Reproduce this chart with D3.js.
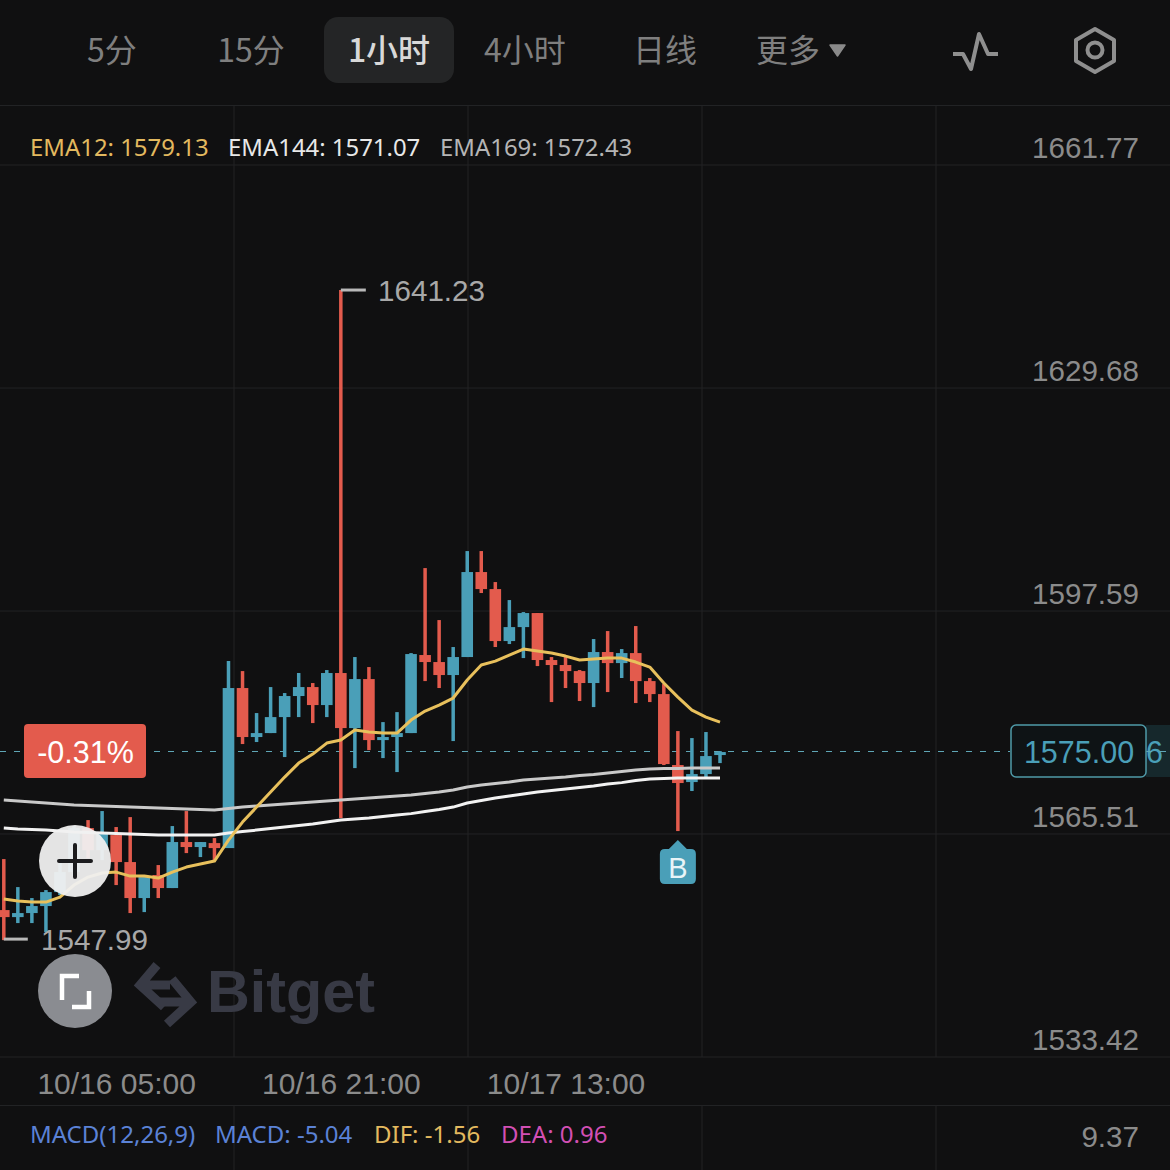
<!DOCTYPE html>
<html><head><meta charset="utf-8">
<script src="https://cdn.jsdelivr.net/npm/d3@7/dist/d3.min.js"></script>
<style>html,body{margin:0;padding:0;background:#101011;overflow:hidden}svg{display:block}
text{font-family:"Liberation Sans",Arial,sans-serif}
.cjk{font-family:"Noto Sans CJK SC","Noto Sans",sans-serif}
.ns{font-family:"Noto Sans",sans-serif}
.domain{display:none}.tick line{display:none}</style></head><body>
<script>
const opens=[1554.56,1553.55,1554.13,1555.14,1557.15,1560.03,1566.36,1563.19,1565.35,1561.47,1556.29,1559.60,1557.73,1564.35,1563.63,1564.20,1563.48,1586.51,1579.46,1580.03,1582.33,1585.36,1586.65,1584.06,1588.67,1580.75,1587.80,1579.02,1579.46,1580.03,1591.26,1590.25,1588.38,1590.97,1603.20,1600.75,1593.27,1595.28,1597.30,1590.54,1589.82,1588.95,1587.23,1591.69,1590.10,1591.54,1587.51,1585.64,1575.43,1572.98,1574.13,1576.87];
const closes=[1553.55,1554.13,1555.14,1557.15,1560.03,1566.36,1563.19,1565.64,1561.47,1556.29,1559.31,1557.73,1564.35,1563.63,1564.35,1563.48,1586.51,1579.46,1580.03,1582.33,1585.36,1586.65,1584.06,1588.67,1580.75,1587.80,1579.02,1579.46,1580.03,1591.40,1590.25,1588.38,1590.97,1603.20,1600.75,1593.27,1595.28,1597.30,1590.54,1589.82,1588.95,1587.23,1591.69,1590.10,1591.54,1587.51,1585.64,1575.57,1572.84,1574.13,1576.72,1577.30];
const highs=[1561.90,1557.87,1556.29,1557.44,1561.76,1566.65,1567.51,1568.81,1566.51,1567.94,1559.31,1561.04,1566.65,1568.81,1564.35,1564.92,1590.39,1588.95,1582.91,1586.65,1585.79,1588.67,1587.23,1589.10,1643.78,1590.97,1589.53,1581.61,1583.05,1591.54,1603.77,1596.29,1592.41,1606.22,1606.22,1601.76,1599.17,1597.44,1597.30,1590.97,1590.97,1589.10,1593.56,1594.71,1592.12,1595.43,1587.95,1587.08,1580.32,1579.31,1580.18,1577.44];
const lows=[1550.24,1552.69,1552.69,1551.40,1556.72,1559.45,1562.04,1561.76,1558.16,1554.13,1554.27,1556.29,1557.73,1562.76,1562.19,1561.76,1563.48,1578.45,1578.74,1580.03,1576.58,1582.33,1581.47,1582.33,1567.80,1574.99,1577.58,1576.43,1574.42,1580.03,1587.51,1586.51,1578.88,1590.97,1600.18,1592.41,1592.84,1590.82,1589.67,1584.49,1586.51,1584.64,1583.77,1585.93,1587.95,1584.35,1584.49,1575.43,1565.93,1571.69,1573.70,1575.71];
const ema12=[1556.14,1555.86,1555.71,1555.71,1556.43,1558.16,1559.31,1559.89,1560.03,1559.45,1559.45,1559.17,1560.03,1560.75,1561.18,1561.61,1564.63,1567.22,1569.38,1571.54,1573.70,1575.71,1577.01,1578.59,1579.02,1580.46,1580.18,1580.03,1580.03,1581.90,1583.20,1584.06,1585.07,1587.66,1589.82,1590.39,1591.26,1592.12,1591.83,1591.54,1591.11,1590.54,1590.68,1590.82,1590.82,1590.25,1589.53,1587.23,1585.21,1583.34,1582.33,1581.61];
const ema144=[1570.39,1570.25,1570.10,1569.96,1569.82,1569.67,1569.60,1569.53,1569.46,1569.38,1569.31,1569.24,1569.17,1569.10,1569.03,1568.95,1569.17,1569.38,1569.53,1569.67,1569.82,1569.96,1570.10,1570.25,1570.39,1570.53,1570.68,1570.82,1570.96,1571.11,1571.32,1571.54,1571.83,1572.26,1572.55,1572.76,1572.98,1573.27,1573.41,1573.55,1573.70,1573.91,1574.06,1574.27,1574.49,1574.71,1574.85,1574.92,1574.92,1574.99,1574.99,1574.99];
const ema169=[1566.36,1566.22,1566.15,1566.07,1565.93,1565.79,1565.71,1565.64,1565.57,1565.50,1565.43,1565.35,1565.35,1565.35,1565.35,1565.35,1565.64,1565.86,1566.07,1566.29,1566.50,1566.72,1566.94,1567.22,1567.51,1567.65,1567.80,1568.01,1568.23,1568.44,1568.73,1569.03,1569.38,1569.96,1570.32,1570.68,1570.96,1571.25,1571.54,1571.76,1571.97,1572.19,1572.40,1572.69,1572.90,1573.19,1573.41,1573.49,1573.55,1573.55,1573.55,1573.55];
const priceTicks=[1661.77,1629.68,1597.59,1565.51,1533.42];
const timeTickIdx=[8,24,40];
const timeTickLabels=["10/16 05:00","10/16 21:00","10/17 13:00"];
const tabs=["5分","15分","1小时","4小时","日线","更多"];
const lastLinePrice=1577.44, buyIndex=48, highIndex=24, lowIndex=0;

const W=1170,H=1170,TEAL="#4a9fb8",RED="#e35b4d",GRID="#222325",GREY="#8b8b8b";
const svg=d3.select("body").append("svg").attr("width",W).attr("height",H);
svg.append("rect").attr("width",W).attr("height",H).attr("fill","#101011");
const x=d3.scaleLinear().domain([0,51]).range([3.8,720]);
const y=d3.scaleLinear().domain([1533.42,1661.77]).range([1057,165]);
const lastY=Math.round(y(lastLinePrice))+.5;

// grid
const g=svg.append("g");
priceTicks.forEach(p=>g.append("line").attr("x1",0).attr("x2",W).attr("y1",y(p)).attr("y2",y(p)).attr("stroke",GRID));
[105,1105].forEach(v=>g.append("line").attr("x1",0).attr("x2",W).attr("y1",v+.5).attr("y2",v+.5).attr("stroke",GRID));
d3.range(1,5).map(k=>k*234).forEach(v=>{
  g.append("line").attr("x1",v).attr("x2",v).attr("y1",106).attr("y2",1057).attr("stroke",GRID);
  g.append("line").attr("x1",v).attr("x2",v).attr("y1",1105).attr("y2",H).attr("stroke",GRID);
});
// tabs
const tabX=[112,251,389,525,665,788];
svg.append("rect").attr("x",324).attr("y",17).attr("width",130).attr("height",66).attr("rx",14).attr("fill","#242526");
tabs.forEach((t,i)=>svg.append("text").attr("class","cjk").attr("x",tabX[i]).attr("y",62).attr("text-anchor","middle")
  .attr("font-size",32).attr("font-weight",i==2?500:400).attr("fill",i==2?"#d8d8d8":"#7f7f7f").text(t));
svg.append("path").attr("d","M830 45h15l-7.500 11z").attr("fill","#8a8a8a").attr("stroke","#8a8a8a").attr("stroke-width",1.500).attr("stroke-linejoin","round");
svg.append("path").attr("d","M953 54H963L971 69L979 34L988 54H998").attr("fill","none").attr("stroke","#8f8f8f").attr("stroke-width",4).attr("stroke-linejoin","round");
svg.append("path").attr("d","M1095 29L1114 40V61L1095 72L1076 61V40Z").attr("fill","none").attr("stroke","#8f8f8f").attr("stroke-width",4).attr("stroke-linejoin","round");
svg.append("circle").attr("cx",1095).attr("cy",50).attr("r",7.500).attr("fill","none").attr("stroke","#8f8f8f").attr("stroke-width",4);
// legend
[["EMA12: 1579.13",30,"#e3b95f"],["EMA144: 1571.07",228,"#e8e8e8"],["EMA169: 1572.43",440,"#b5b5b5"]].forEach(d=>
  svg.append("text").attr("class","ns").attr("x",d[1]).attr("y",156).attr("font-size",23.9).attr("fill",d[2]).text(d[0]));
// axes
const ya=svg.append("g").attr("transform","translate(1139,-17)").call(d3.axisLeft(y).tickValues(priceTicks).tickSize(0).tickPadding(0).tickFormat(d3.format(".2f")));
ya.selectAll("text").attr("font-size",29.6).attr("fill",GREY).attr("font-family","Liberation Sans");
const xa=svg.append("g").attr("transform","translate(0,1073)").call(d3.axisBottom(x).tickValues(timeTickIdx).tickSize(0).tickPadding(0).tickFormat((d,i)=>timeTickLabels[i]));
xa.selectAll("text").attr("font-size",30).attr("fill",GREY).attr("font-family","Liberation Sans");
// last price dash
svg.append("line").attr("x1",0).attr("x2",1010).attr("y1",lastY).attr("y2",lastY).attr("stroke","#5fa6b6").attr("stroke-dasharray","6 8").attr("stroke-width",1);
// watermark
const wm=svg.append("g").attr("fill","none").attr("stroke","#383a45").attr("stroke-width",9);
wm.append("path").attr("d","M157 965L140 985L164 1007M142 985H170");
wm.append("path").attr("d","M172 979L191 1002L167 1024M189 1002H160");
svg.append("text").attr("x",207).attr("y",1012).attr("font-size",60).attr("font-weight",700).attr("fill","#383a45").attr("font-family","Inter").attr("textLength",168).attr("lengthAdjust","spacingAndGlyphs").text("Bitget");
// candles
const idx=d3.range(opens.length);
const col=i=>closes[i]<opens[i]?RED:TEAL;
const c=svg.append("g");
c.selectAll("line").data(idx).join("line").attr("x1",x).attr("x2",x).attr("y1",i=>y(highs[i])).attr("y2",i=>y(lows[i])).attr("stroke",col).attr("stroke-width",3.500);
c.selectAll("rect").data(idx).join("rect").attr("x",i=>x(i)-5.800).attr("width",11.600).attr("y",i=>y(Math.max(opens[i],closes[i]))).attr("height",i=>Math.max(3,Math.abs(y(opens[i])-y(closes[i])))).attr("fill",col);
// EMA lines
const ln=d3.line().x((d,i)=>x(i)).y(d=>y(d));
[[ema144,"#c9c9c9"],[ema169,"#f2f2f2"],[ema12,"#e8c05c"]].forEach(d=>svg.append("path").attr("d",ln(d[0])).attr("fill","none").attr("stroke",d[1]).attr("stroke-width",3).attr("stroke-linejoin","round"));
// high/low annotations
svg.append("line").attr("x1",x(highIndex)).attr("x2",x(highIndex)+25).attr("y1",y(highs[highIndex])).attr("y2",y(highs[highIndex])).attr("stroke","#b8b8b8").attr("stroke-width",3);
svg.append("text").attr("x",378).attr("y",y(highs[highIndex])+11).attr("font-size",29.6).attr("fill","#a8a8a8").text("1641.23");
svg.append("line").attr("x1",x(lowIndex)).attr("x2",x(lowIndex)+24).attr("y1",y(lows[lowIndex])-1).attr("y2",y(lows[lowIndex])-1).attr("stroke","#b8b8b8").attr("stroke-width",3);
svg.append("text").attr("x",41).attr("y",950).attr("font-size",29.6).attr("fill","#a8a8a8").text("1547.99");
// pct badge
svg.append("rect").attr("x",24).attr("y",724).attr("width",122).attr("height",54).attr("rx",4).attr("fill",RED);
svg.append("text").attr("x",85.500).attr("y",763).attr("text-anchor","middle").attr("font-size",30.500).attr("fill","#fff").text("-0.31%");
// price box
svg.append("rect").attr("x",1146).attr("y",725).attr("width",24).attr("height",52).attr("fill","#16282c");
svg.append("text").attr("x",1146).attr("y",763).attr("font-size",30.500).attr("fill",TEAL).text("6");
svg.append("line").attr("x1",1146).attr("x2",1170).attr("y1",lastY).attr("y2",lastY).attr("stroke","#5fa6b6").attr("stroke-dasharray","6 8");
svg.append("rect").attr("x",1011).attr("y",725).attr("width",135).attr("height",52).attr("rx",5).attr("fill","#0e1315").attr("stroke","#4f9aa8").attr("stroke-width",1.500);
svg.append("text").attr("x",1079).attr("y",763).attr("text-anchor","middle").attr("font-size",30.500).attr("fill",TEAL).text("1575.00");
// B marker
const bx=x(buyIndex);
svg.append("path").attr("d",`M${bx} 840L${bx+9} 849H${bx+13}Q${bx+18} 849 ${bx+18} 854V879Q${bx+18} 884 ${bx+13} 884H${bx-13}Q${bx-18} 884 ${bx-18} 879V854Q${bx-18} 849 ${bx-13} 849H${bx-9}Z`).attr("fill","#4a9fb8");
svg.append("text").attr("x",bx).attr("y",878).attr("text-anchor","middle").attr("font-size",29).attr("fill","#e8f4f7").text("B");
// buttons
svg.append("circle").attr("cx",75).attr("cy",861).attr("r",36).attr("fill","#f0f0f0").attr("fill-opacity",.95);
svg.append("path").attr("d","M59 861H91M75 845V877").attr("stroke","#1c1c1e").attr("stroke-width",4).attr("stroke-linecap","round");
svg.append("circle").attr("cx",75).attr("cy",991).attr("r",37).attr("fill","#8a8c91");
svg.append("path").attr("d","M62 1000V976H79M89 991V1007H72").attr("fill","none").attr("stroke","#fff").attr("stroke-width",4.500);
// MACD row
[["MACD(12,26,9)",30,"#5b82d6"],["MACD: -5.04",215,"#5b82d6"],["DIF: -1.56",374,"#e3b95f"],["DEA: 0.96",501,"#d24fb4"]].forEach(d=>
  svg.append("text").attr("class","ns").attr("x",d[1]).attr("y",1143).attr("font-size",24).attr("fill",d[2]).text(d[0]));
svg.append("text").attr("x",1139).attr("y",1147).attr("text-anchor","end").attr("font-size",29.6).attr("fill",GREY).text("9.37");
</script></body></html>
